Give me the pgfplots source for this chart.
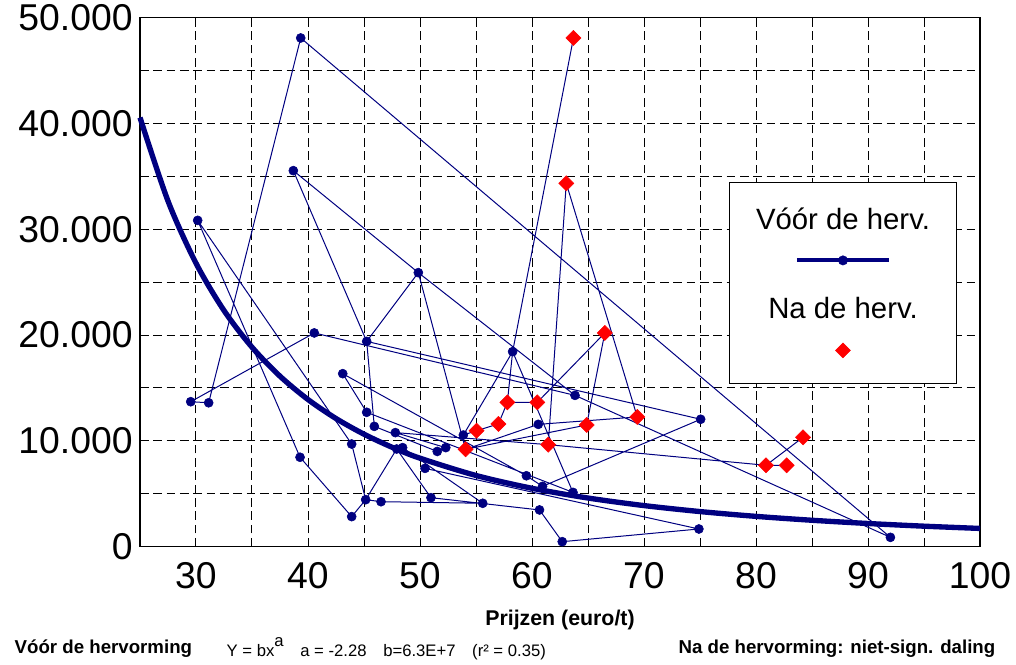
\documentclass[border=0pt]{standalone}
\usepackage{pgfplots}
\pgfplotsset{compat=1.18}
\usepackage{fontspec}
\setmainfont{Liberation Sans}
\definecolor{navy}{RGB}{0,0,128}
\definecolor{rood}{RGB}{255,0,0}

% fitted curve Y = b x^a
\pgfplotstableread{
x y
25 40560
27.5 32670
30 26790
32.5 22320
35 18850
37.5 16110
40 13905
42.5 12110
45 10630
47.5 9397
50 8361
55 6727
60 5517
65 4596
70 3882
75 3317
80 2863
85 2494
90 2189
95 1935
100 1722
}\fit

\pgfplotstableread{
x y
29.53 13700
31.13 13600
30.15 30840
39.35 48080
38.69 35540
40.56 20200
39.29 8450
43.10 16350
43.90 9700
43.90 2840
45.24 19400
45.24 12700
45.92 11370
45.15 4440
46.52 4250
47.80 10780
47.92 9230
48.45 9360
49.85 25900
50.45 7400
50.98 4630
51.54 9000
52.30 9360
53.87 10550
55.60 4100
58.27 18430
59.50 6700
60.56 11560
60.94 5700
60.67 3470
62.70 470
63.66 5130
63.84 14300
75.06 12040
74.90 1670
92.00 880
}\voor

\pgfplotstableread{
x y
54.07 9200
55.05 10960
57.00 11600
57.80 13640
60.47 13640
61.45 9640
63.06 34340
63.70 48080
64.88 11500
66.50 20200
69.40 12260
80.89 7690
82.74 7690
84.20 10330
}\na

\begin{document}
\begin{tikzpicture}
\begin{axis}[
  scale only axis,
  width=630pt, height=396.75pt,
  xmin=25, xmax=100, ymin=0, ymax=50000,
  xtick={30,40,...,100},
  minor xtick={35,45,...,95},
  ytick={0,10000,...,50000},
  minor ytick={5000,15000,...,45000},
  grid=both,
  major grid style={black, dash pattern=on 6.5pt off 3.5pt, line width=0.75pt},
  minor grid style={black, dash pattern=on 6.5pt off 3.5pt, line width=0.75pt},
  major tick length=0pt, minor tick length=0pt,
  axis line style={black, line width=1pt},
  scaled ticks=false,
  /pgf/number format/.cd, 1000 sep={.}, assume math mode=true,
  /pgfplots/.cd,
  ticklabel style={font=\fontsize{28}{30}\selectfont},
  xticklabel style={yshift=-8.5pt},
  yticklabel style={xshift=-2pt},
  xlabel={\bfseries Prijzen (euro/t)},
  xlabel style={font=\fontsize{16}{18}\selectfont, yshift=-9pt},
  clip=false,
  unbounded coords=jump,
  legend style={at={(rel axis cs:0.701,0.6906)}, anchor=north west,
    draw=none, fill=none, inner sep=0pt,
    nodes={inner sep=0pt}, column sep=0pt},
]
\addlegendimage{legend image code/.code={
  \draw[black, line width=0.8pt, fill=white] (-85pt,-92.5pt) rectangle (85pt,58.7pt);
  \node[font=\fontsize{22}{24}\selectfont] at (0,30.75pt) {Vóór de herv.};
  \draw[navy, line width=3pt] (-34.5pt,0) -- (34.5pt,0);
  \fill[navy] (0,0) circle (3.5pt);
  \node[font=\fontsize{22}{24}\selectfont] at (0,-36pt) {Na de herv.};
  \fill[rood] (0,-73.1pt) -- (5.6pt,-67.5pt) -- (0,-61.9pt) -- (-5.6pt,-67.5pt) -- cycle;
}}
\addlegendentry{}

% thin connecting lines (segments)
\addplot[navy, line width=0.75pt, no marks] coordinates {
(29.53,13700) (31.13,13600) (39.35,48080) (92.00,880) (63.84,14300) (49.85,25900) (38.69,35540) (45.24,19400) (49.85,25900)
(nan,nan)
(29.53,13700) (40.56,20200) (63.84,14300)
(nan,nan)
(30.15,30840) (39.29,8450) (43.90,2840) (45.15,4440) (43.90,9700) (30.15,30840)
(nan,nan)
(49.85,25900) (54.07,9200)
(nan,nan)
(45.24,19400) (75.06,12040) (60.94,5700) (59.50,6700) (43.10,16350) (45.24,12700) (63.66,5130) (58.27,18430) (53.87,10550)
(nan,nan)
(45.24,19400) (45.92,11370) (51.54,9000) (52.30,9360) (47.80,10780) (61.45,9640)
(nan,nan)
(45.15,4440) (47.92,9230) (48.45,9360) (55.60,4100) (46.52,4250) (45.15,4440)
(nan,nan)
(50.45,7400) (74.90,1670) (62.70,470) (60.67,3470) (50.98,4630) (47.92,9230)
(nan,nan)
(63.70,48080) (58.27,18430) (57.80,13640) (60.47,13640) (66.50,20200) (64.88,11500) (54.07,9200) (60.56,11560) (69.40,12260) (63.06,34340) (61.45,9640) (80.89,7690) (82.74,7690)
(nan,nan)
(80.89,7690) (84.20,10330)
(nan,nan)
(57.80,13640) (57.00,11600) (55.05,10960) (53.87,10550)
};
\addplot[navy, line width=4pt, no marks, smooth] table {\fit};
\addplot[only marks, mark=*, mark size=3.4pt, navy] table {\voor};
\addplot[only marks, mark=square*, mark size=4pt, mark options={rotate=45}, rood] table {\na};
\end{axis}
\node[anchor=west, font=\fontsize{14}{16}\selectfont\bfseries] at (-97.5pt,-76.5pt) {Vóór de hervorming};
\node[anchor=west, font=\fontsize{12.5}{14}\selectfont] at (61.5pt,-76.5pt) {Y = bx\raisebox{1.2ex}{a}\quad a = -2.28\quad b=6.3E+7\quad (r² = 0.35)};
\node[anchor=east, font=\fontsize{14}{16}\selectfont\bfseries] at (645pt,-76.5pt) {Na de hervorming: niet-sign. daling};
\path (-105pt,-86.25pt) rectangle (657pt,409.5pt);
\end{tikzpicture}
\end{document}
